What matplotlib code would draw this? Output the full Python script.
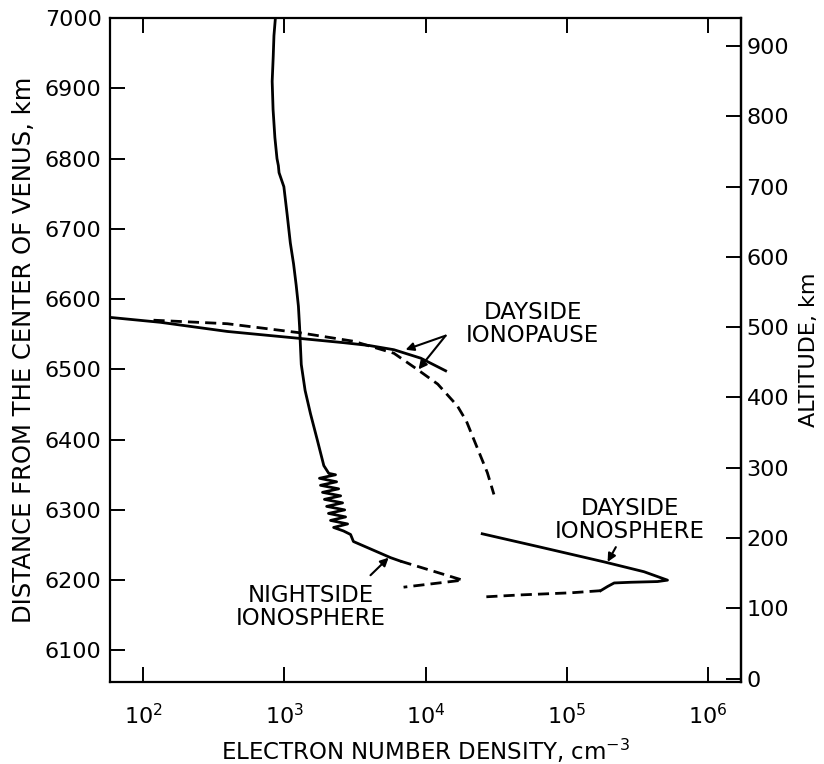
import numpy as np
import matplotlib
matplotlib.use("Agg")
import matplotlib.pyplot as plt

plt.rcParams['font.family'] = ['DejaVu Sans']

# nightside ionosphere, solid trace (top of plot down to the knee)
night_n = [862, 842, 832, 818, 830, 855, 885, 905, 915, 990, 1045, 1100, 1160,
           1210, 1255, 1280, 1290, 1315, 1400, 1528, 1706, 1900, 2060,
           2300, 1770, 2340, 1800, 2420, 1860, 2500, 1920, 2580, 1990, 2670,
           2050, 2710, 2120, 2800, 2230, 2620, 2940, 3080, 5650, 6650]
night_d = [7000, 6975, 6945, 6910, 6870, 6830, 6800, 6790, 6780, 6760, 6720,
           6680, 6650, 6620, 6590, 6560, 6544, 6507, 6470, 6437, 6400, 6363,
           6352, 6350, 6345, 6340, 6335, 6330, 6325, 6320, 6315, 6310, 6305,
           6300, 6295, 6290, 6285, 6280, 6275, 6270, 6265, 6255, 6232, 6227]
# nightside ionosphere, dashed continuation
night_dash_n = [6650, 18300, 6980]
night_dash_d = [6227, 6200, 6190]

# dayside ionopause
pause_n = [58, 132, 393, 1297, 2630, 3980, 5960, 9230, 13870]
pause_d = [6574, 6567, 6554, 6544, 6538, 6534, 6528, 6516, 6498]
pause_dash_n = [118, 393, 1297, 3090, 5960, 8730, 12200, 16800, 19500, 22000,
                27400, 30500]
pause_dash_d = [6570, 6565, 6552, 6540, 6523, 6500, 6479, 6448, 6426, 6400,
                6353, 6322]

# dayside ionosphere
iono_n = [25200, 62000, 184000, 353000, 518000, 440000, 285000, 217000,
          195000, 174000]
iono_d = [6266, 6248, 6226, 6212, 6200, 6198, 6197, 6196, 6191, 6185]
iono_dash_n = [174000, 107000, 47200, 25200]
iono_dash_d = [6185, 6182, 6179, 6176]

x_ticks = [1e2, 1e3, 1e4, 1e5, 1e6]
x_labels = ['$10^{2}$', '$10^{3}$', '$10^{4}$', '$10^{5}$', '$10^{6}$']
y_ticks = [6100, 6200, 6300, 6400, 6500, 6600, 6700, 6800, 6900, 7000]
alt_ticks = [0, 100, 200, 300, 400, 500, 600, 700, 800, 900]
alt_offset = 6060

fig = plt.figure(figsize=(8.24, 7.64), dpi=100)
ax = fig.add_axes([0.1335, 0.1073, 0.7658, 0.869])

lw = 2.0
dash = (0, (4, 2.2))
ax.plot(night_n, night_d, color='k', lw=lw)
ax.plot(night_dash_n, night_dash_d, color='k', lw=lw, linestyle=dash)
ax.plot(pause_n, pause_d, color='k', lw=lw)
ax.plot(pause_dash_n, pause_dash_d, color='k', lw=lw, linestyle=dash)
ax.plot(iono_n, iono_d, color='k', lw=lw)
ax.plot(iono_dash_n, iono_dash_d, color='k', lw=lw, linestyle=dash)

ax.set_xscale('log')
ax.set_xlim(58, 1.72e6)
ax.set_ylim(6055, 7000)
ax.set_xticks(x_ticks)
ax.set_xticklabels(x_labels)
ax.xaxis.set_minor_locator(matplotlib.ticker.NullLocator())
ax.set_yticks(y_ticks)

for s in ax.spines.values():
    s.set_linewidth(1.6)
ax.tick_params(axis='x', which='major', direction='in', length=11, width=1.4,
               top=True, labelsize=16, pad=15)
ax.tick_params(axis='y', which='major', direction='in', length=11, width=1.4,
               labelsize=16, pad=6)

sec = ax.secondary_yaxis('right', functions=(lambda d: d - alt_offset,
                                             lambda a: a + alt_offset))
sec.set_yticks(alt_ticks)
sec.tick_params(direction='in', length=11, width=1.4, labelsize=16, pad=4)
sec.spines['right'].set_linewidth(1.6)
sec.set_ylabel('ALTITUDE, km', fontsize=16, labelpad=7)

ax.set_xlabel('ELECTRON NUMBER DENSITY, cm$^{-3}$', fontsize=16.5, labelpad=6)
ax.set_ylabel('DISTANCE FROM THE CENTER OF VENUS, km', fontsize=17.5,
              labelpad=6)

# labels and pointer arrows
arrow = dict(arrowstyle='-|>', color='k', lw=1.5, mutation_scale=12,
             shrinkA=0, shrinkB=0)
ax.text(57400, 6564, 'DAYSIDE\nIONOPAUSE', ha='center', va='center',
        fontsize=16.5, linespacing=1.0)
ax.annotate('', xy=(7210, 6528), xytext=(13870, 6548), arrowprops=arrow)
ax.annotate('', xy=(8910, 6500), xytext=(13870, 6548), arrowprops=arrow)

ax.text(280000, 6286, 'DAYSIDE\nIONOSPHERE', ha='center', va='center',
        fontsize=16.5, linespacing=1.0)
ax.annotate('', xy=(195000, 6226), xytext=(223000, 6247), arrowprops=arrow)

ax.text(1530, 6162, 'NIGHTSIDE\nIONOSPHERE', ha='center', va='center',
        fontsize=16.5, linespacing=1.0)
ax.annotate('', xy=(5470, 6232), xytext=(4070, 6207), arrowprops=arrow)

fig.savefig('out.png', dpi=100)
